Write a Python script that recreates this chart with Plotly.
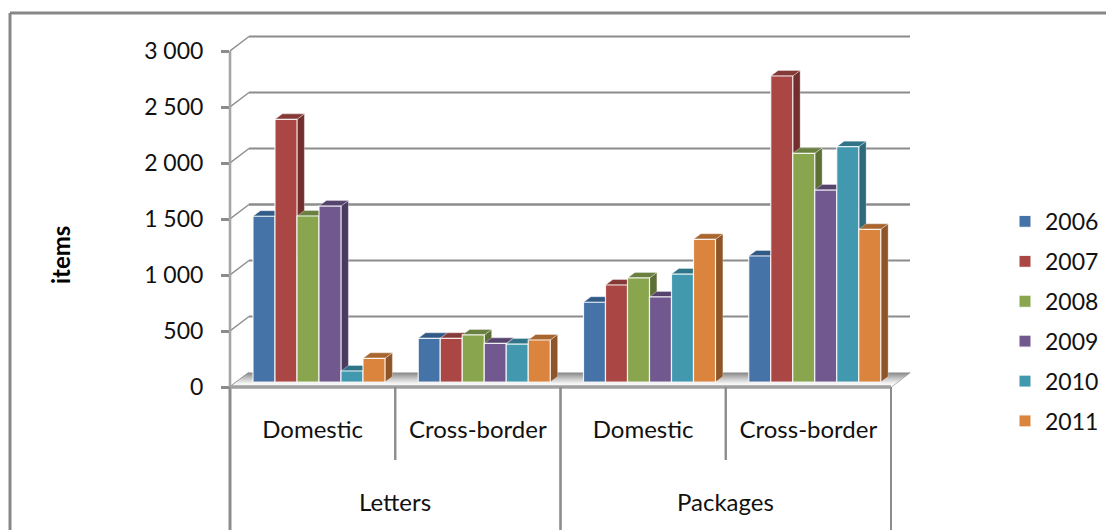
import plotly.graph_objects as go

# Values per year, one per category in the order below
categories = ["Domestic", "Cross-border", "Domestic", "Cross-border"]
parents = ["Letters", "Packages"]
years = ["2006", "2007", "2008", "2009", "2010", "2011"]
v2006 = [1480, 390, 712, 1125]
v2007 = [2345, 390, 866, 2732]
v2008 = [1482, 420, 929, 2042]
v2009 = [1571, 345, 760, 1714]
v2010 = [98, 339, 964, 2101]
v2011 = [211, 375, 1274, 1363]
series = [v2006, v2007, v2008, v2009, v2010, v2011]

tick_values = [0, 500, 1000, 1500, 2000, 2500, 3000]
tick_labels = ["0", "500", "1 000", "1 500", "2 000", "2 500", "3 000"]

front = ["#4572A7", "#AA4643", "#89A54E", "#71588F", "#4198AF", "#DB843D"]
side = ["#2F4F76", "#722E2C", "#5E7035", "#4A3A60", "#2F6A7C", "#8F5427"]
top = ["#315A86", "#853A38", "#6A8040", "#56446F", "#2F7488", "#A8652E"]

W, H = 1106, 530
AXIS_L, AXIS_B = 230, 387      # pixel position of the axis corner
GROUP_W = 165.25               # pixels per category
PX_PER_UNIT = 0.112            # pixels per item
X_MAX, Y_MAX = 4.2, 3200

BAR_W = 22 / GROUP_W
BAR_START = 23 / GROUP_W
DX, DY = 7.4 / GROUP_W, 5.5 / PX_PER_UNIT     # depth of a bar
WALL_DX, WALL_DY = 19 / GROUP_W, 14.5 / PX_PER_UNIT   # depth of the floor
BASE = 5 / PX_PER_UNIT         # bars stand slightly behind the front edge

AXIS_GREY = "#989898"
GRID_GREY = "#8c8c8c"
FONT = "Lato"


def px_x(px):
    return px / W


def px_y(py):
    return 1 - py / H


fig = go.Figure()

# Floor of the 3D box
fig.add_trace(go.Scatter(
    x=[0, WALL_DX, 4 + WALL_DX, 4, 0],
    y=[0, WALL_DY, WALL_DY, 0, 0],
    mode="lines", fill="toself", line=dict(width=0),
    fillgradient=dict(type="vertical", colorscale=[[0, "#ffffff"], [0.25, "#f4f4f4"], [0.6, "#c4c4c4"], [1, "#858585"]]),
    showlegend=False, hoverinfo="skip",
))

# Side and top faces, left to right so that later bars overlap earlier ones
for i, values in enumerate(series):
    sx, sy, tx, ty = [], [], [], []
    for g, v in enumerate(values):
        xl = g + BAR_START + i * BAR_W
        xr = xl + BAR_W
        h = BASE + v
        sx += [xr, xr + DX, xr + DX, xr, xr, None]
        sy += [BASE, BASE + DY, h + DY, h, BASE, None]
        tx += [xl, xl + DX, xr + DX, xr, xl, None]
        ty += [h, h + DY, h + DY, h, h, None]
    fig.add_trace(go.Scatter(
        x=sx, y=sy, mode="lines", fill="toself", fillcolor=side[i],
        line=dict(width=0.6, color="rgba(255,255,255,0.55)"),
        showlegend=False, hoverinfo="skip",
    ))
    fig.add_trace(go.Scatter(
        x=tx, y=ty, mode="lines", fill="toself", fillcolor=top[i],
        line=dict(width=0.6, color="rgba(255,255,255,0.55)"),
        showlegend=False, hoverinfo="skip",
    ))

# Front faces on an overlaid pair of axes so they sit above the side faces
for i, values in enumerate(series):
    fig.add_trace(go.Bar(
        x=[g + BAR_START + (i + 0.5) * BAR_W for g in range(4)],
        y=values, base=BASE, width=BAR_W, name=years[i],
        legendgroup=years[i], xaxis="x2", yaxis="y2",
        marker=dict(color=front[i], line=dict(color="rgba(255,255,255,0.85)", width=1.2)),
    ))

# Back wall gridlines and their diagonal links to the value axis
shapes = []
for v in tick_values:
    if v > 0:
        shapes.append(dict(type="line", xref="x", yref="y", layer="below",
                           x0=WALL_DX, x1=4 + WALL_DX, y0=v + WALL_DY, y1=v + WALL_DY,
                           line=dict(color=GRID_GREY, width=2.4 if v == 1500 else 1.8)))
    shapes.append(dict(type="line", xref="x", yref="y", layer="below",
                       x0=0, x1=WALL_DX, y0=v, y1=v + WALL_DY,
                       line=dict(color=GRID_GREY, width=1.4)))

# Floor front corner on the right
shapes.append(dict(type="line", xref="x", yref="y", layer="below",
                   x0=4, x1=4 + WALL_DX, y0=0, y1=WALL_DY,
                   line=dict(color="#a8a8a8", width=1.4)))


def frame(x0, y0, x1, y1, width=2.5, color=AXIS_GREY):
    shapes.append(dict(type="line", xref="paper", yref="paper", layer="above",
                       x0=px_x(x0), x1=px_x(x1), y0=px_y(y0), y1=px_y(y1),
                       line=dict(color=color, width=width)))


frame(AXIS_L, AXIS_B - 3000 * PX_PER_UNIT, AXIS_L, AXIS_B, 2.6, "#a6a6a6")
frame(AXIS_L, AXIS_B, AXIS_L, H, 3, "#8c8c8c")
frame(AXIS_L, AXIS_B, AXIS_L + 4 * GROUP_W, AXIS_B, 3.4, "#a0a0a0")
frame(AXIS_L + GROUP_W, AXIS_B, AXIS_L + GROUP_W, 460, 2.4, "#8c8c8c")
frame(AXIS_L + 2 * GROUP_W, AXIS_B, AXIS_L + 2 * GROUP_W, H, 2.6, "#8c8c8c")
frame(AXIS_L + 3 * GROUP_W, AXIS_B, AXIS_L + 3 * GROUP_W, 460, 2.4, "#8c8c8c")
frame(AXIS_L + 4 * GROUP_W, AXIS_B, AXIS_L + 4 * GROUP_W, H, 2, "#8c8c8c")

# Chart area border
frame(10, 13, W, 13, 3, "#878787")
frame(10, 13, 10, H, 3, "#878787")

annotations = [
    dict(text=parents[0], x=1, xref="x", y=px_y(501), yref="paper", showarrow=False,
         font=dict(family=FONT, size=24, color="#111111"), xanchor="center", yanchor="middle"),
    dict(text=parents[1], x=3, xref="x", y=px_y(501), yref="paper", showarrow=False,
         font=dict(family=FONT, size=24, color="#111111"), xanchor="center", yanchor="middle"),
    dict(text="<b>items</b>", x=px_x(60), xref="paper", y=px_y(255), yref="paper", showarrow=False,
         textangle=-90, font=dict(family=FONT, size=24, color="#000000"),
         xanchor="center", yanchor="middle"),
]

x_domain = [px_x(AXIS_L), px_x(AXIS_L + X_MAX * GROUP_W)]
y_domain = [px_y(AXIS_B), px_y(AXIS_B - Y_MAX * PX_PER_UNIT)]

fig.update_layout(
    width=W, height=H, margin=dict(l=0, r=0, t=0, b=0, autoexpand=False),
    paper_bgcolor="white", plot_bgcolor="rgba(0,0,0,0)",
    barmode="overlay", shapes=shapes, annotations=annotations,
    font=dict(family=FONT, color="#111111"),
    xaxis=dict(domain=x_domain, range=[0, X_MAX], showgrid=False, zeroline=False, showline=False,
               automargin=False,
               tickmode="array", tickvals=[0.5, 1.5, 2.5, 3.5], ticktext=categories,
               ticks="", ticklabelstandoff=26, tickfont=dict(family=FONT, size=24, color="#111111")),
    yaxis=dict(domain=y_domain, range=[0, Y_MAX], showgrid=False, zeroline=False, showline=False,
               automargin=False,
               tickmode="array", tickvals=tick_values, ticktext=tick_labels,
               ticks="outside", ticklen=8, tickwidth=2.5, tickcolor="#8c8c8c",
               ticklabelstandoff=13, tickfont=dict(family=FONT, size=23, color="#111111")),
    xaxis2=dict(domain=x_domain, range=[0, X_MAX], overlaying="x", visible=False),
    yaxis2=dict(domain=y_domain, range=[0, Y_MAX], overlaying="y", visible=False),
    legend=dict(x=px_x(1005), xanchor="left", y=px_y(200), yanchor="top",
                traceorder="grouped", tracegroupgap=7, bgcolor="rgba(0,0,0,0)",
                font=dict(family=FONT, size=23, color="#111111")),
)

fig.write_html("out.html")
